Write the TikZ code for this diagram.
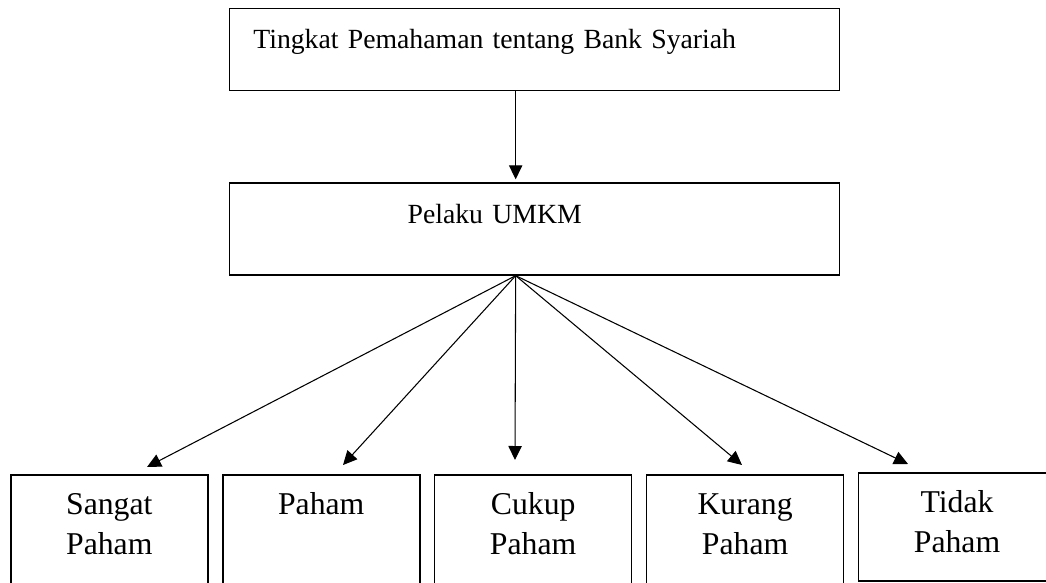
\documentclass[tikz,border=0pt]{standalone}
\usepackage{fontspec}
\setmainfont{Liberation Serif}
\usetikzlibrary{
  positioning,
  arrows.meta
}

\begin{document}
\begin{tikzpicture}[
  x=0.75pt, y=-0.75pt,
  every node/.style={align=center, inner sep=0pt},
  headbox/.style={
    rectangle, draw, line width=1pt,
    text width=457.5pt, text height=30pt,
    font=\fontsize{20.8pt}{30pt}\selectfont,
    execute at end node={\hspace*{60pt}}
  },
  levelbox/.style={
    rectangle, draw, line width=1.2pt,
    text width=147.75pt, text height=30pt, text depth=60pt,
    font=\fontsize{23.8pt}{29.5pt}\selectfont
  },
  arrow/.style={-{Triangle[length=10.5pt,width=10pt]}, line width=0.8pt}
]
 \useasboundingbox (0,0) rectangle (1046,582);

 % Top -- topic and respondents
 \node[headbox, text depth=31.5pt, anchor=north west] (tingkat) at (229,8) {Tingkat Pemahaman tentang Bank Syariah};
 \node[headbox, text depth=39pt, below=68.25pt of tingkat] (umkm) {Pelaku UMKM};

 \draw[arrow] ([xshift=-14.25pt]tingkat.south) -- ([xshift=-14.25pt,yshift=2.25pt]umkm.north);

 % Bottom row -- 5 levels of understanding
 \node[levelbox, anchor=north west]            (sangat) at (10,474) {Sangat\\Paham};
 \node[levelbox, right=10pt of sangat]      (paham)  {Paham};
 \node[levelbox, right=10pt of paham]       (cukup)  {Cukup\\Paham};
 \node[levelbox, right=10pt of cukup]       (kurang) {Kurang\\Paham};
 \node[levelbox, text depth=51pt, right=10pt of kurang.north east, anchor=north west, yshift=1.5pt] (tidak) {Tidak\\Paham};

 % fan of arrows from the respondents box
 \coordinate (src) at ([xshift=-14.25pt]umkm.south);
 \coordinate (t1) at (147,467);
 \coordinate (t2) at (343,465);
 \coordinate (t3) at (515,460);
 \coordinate (t4) at (742,465);
 \coordinate (t5) at (908,464);

 \draw[arrow] (src) -- (t1); \draw[arrow] (src) -- (t2);
 \draw[arrow] (src) -- (t3); \draw[arrow] (src) -- (t4);
 \draw[arrow] (src) -- (t5);
\end{tikzpicture}
\end{document}
